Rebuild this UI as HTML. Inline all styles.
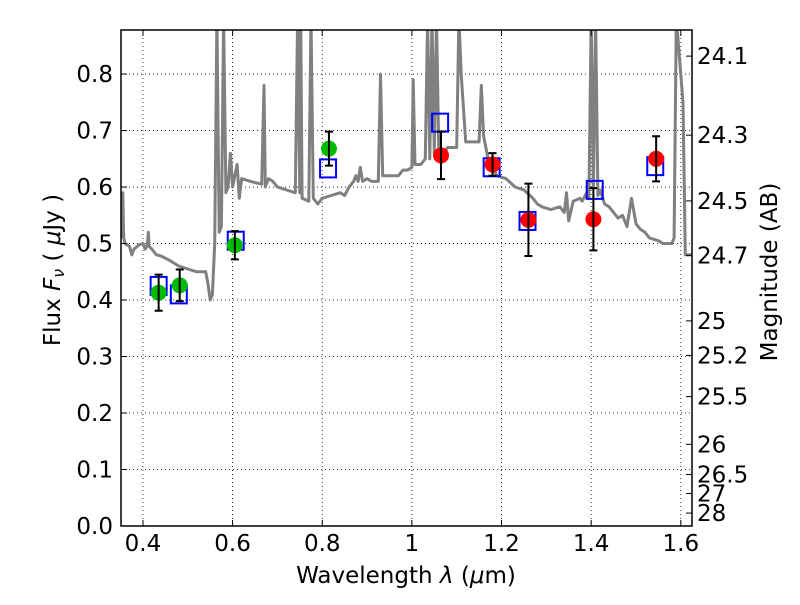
<!DOCTYPE html>
<html><head><meta charset="utf-8"><style>
body{margin:0;background:#fff}
svg text{font-family:"DejaVu Sans","Liberation Sans",sans-serif;fill:#000}
</style></head><body>
<svg id="chart" width="800" height="600" viewBox="0 0 800 600" xmlns="http://www.w3.org/2000/svg">
<defs><clipPath id="pc"><rect x="121" y="30" width="571" height="496"/></clipPath></defs>
<g id="grid"></g>
<g id="spec" clip-path="url(#pc)"></g>
<g id="marks" clip-path="url(#pc)"></g>
<rect x="121" y="30" width="571" height="496" fill="none" stroke="#000" stroke-width="1.5"/>
<g id="axes"></g>
<text x="406" y="583" font-size="23" text-anchor="middle">Wavelength  <tspan font-style="italic">λ</tspan> (<tspan font-style="italic">μ</tspan>m)</text>
<text transform="translate(60,270) rotate(-90)" font-size="23" text-anchor="middle">Flux  <tspan font-style="italic">F</tspan><tspan font-style="italic" font-size="16" dy="4">ν</tspan><tspan dy="-4">  ( </tspan><tspan font-style="italic">μ</tspan>Jy )</text>
<text transform="translate(777,272) rotate(-90)" font-size="23" text-anchor="middle">Magnitude (AB)</text>
</svg>
<script>
const xTicks=[0.4,0.6,0.8,1.0,1.2,1.4,1.6];
const xTickLabels=["0.4","0.6","0.8","1","1.2","1.4","1.6"];
const yTicks=[0,0.1,0.2,0.3,0.4,0.5,0.6,0.7,0.8];
const yTickLabels=["0.0","0.1","0.2","0.3","0.4","0.5","0.6","0.7","0.8"];
const magTicks=[24.1,24.3,24.5,24.7,25,25.2,25.5,26,26.5,27,28];
const magLabels=["24.1","24.3","24.5","24.7","25","25.2","25.5","26","26.5","27","28"];
const specWave=[0.351,0.355,0.357,0.36,0.37,0.375,0.38,0.39,0.40,0.405,0.41,0.412,0.414,0.42,0.43,0.44,0.46,0.48,0.50,0.52,0.54,0.545,0.55,0.555,0.56,0.565,0.57,0.575,0.58,0.585,0.59,0.595,0.60,0.605,0.61,0.615,0.62,0.64,0.665,0.67,0.673,0.68,0.69,0.70,0.72,0.74,0.745,0.75,0.752,0.755,0.77,0.775,0.78,0.79,0.80,0.82,0.84,0.85,0.86,0.87,0.875,0.88,0.885,0.89,0.90,0.91,0.92,0.925,0.93,0.935,0.95,0.97,0.98,0.99,1.0,1.003,1.007,1.02,1.03,1.035,1.04,1.045,1.05,1.055,1.06,1.07,1.08,1.09,1.1,1.105,1.11,1.12,1.13,1.14,1.15,1.155,1.16,1.17,1.19,1.21,1.23,1.25,1.27,1.28,1.29,1.31,1.33,1.34,1.345,1.35,1.36,1.375,1.38,1.39,1.395,1.40,1.405,1.41,1.415,1.42,1.43,1.44,1.45,1.46,1.47,1.48,1.49,1.50,1.51,1.52,1.53,1.55,1.56,1.58,1.585,1.59,1.605,1.61,1.625];
const specFlux=[0.51,0.59,0.51,0.50,0.495,0.48,0.49,0.497,0.50,0.49,0.497,0.52,0.495,0.49,0.48,0.478,0.47,0.46,0.455,0.45,0.45,0.43,0.40,0.41,0.50,0.90,0.52,0.53,0.90,0.59,0.60,0.66,0.60,0.62,0.64,0.58,0.615,0.61,0.605,0.78,0.60,0.615,0.61,0.60,0.595,0.59,0.90,0.59,0.90,0.58,0.575,0.90,0.58,0.57,0.58,0.585,0.59,0.585,0.60,0.61,0.62,0.61,0.635,0.61,0.615,0.61,0.61,0.61,0.80,0.62,0.62,0.62,0.63,0.63,0.635,0.79,0.64,0.64,0.65,0.90,0.65,0.90,0.66,0.90,0.66,0.66,0.67,0.67,0.67,0.90,0.80,0.68,0.68,0.68,0.68,0.78,0.69,0.65,0.62,0.615,0.60,0.595,0.58,0.57,0.565,0.56,0.565,0.555,0.59,0.54,0.575,0.58,0.575,0.59,0.58,0.90,0.60,0.90,0.585,0.595,0.57,0.565,0.555,0.545,0.55,0.53,0.58,0.535,0.525,0.52,0.51,0.505,0.50,0.50,0.51,0.90,0.75,0.48,0.48];
const greenWave=[0.435,0.482,0.605,0.815];
const greenFlux=[0.413,0.426,0.497,0.668];
const greenErr=[0.032,0.028,0.025,0.03];
const redWave=[1.065,1.18,1.26,1.405,1.545];
const redFlux=[0.656,0.64,0.542,0.543,0.65];
const redErr=[0.042,0.02,0.064,0.055,0.04];
const blueWave=[0.435,0.48,0.607,0.813,1.063,1.178,1.258,1.408,1.543];
const blueFlux=[0.425,0.41,0.505,0.633,0.714,0.635,0.54,0.595,0.637];

const NS="http://www.w3.org/2000/svg";
const X0=0.351,X1=1.625,Y0=0,Y1=0.878,L=121,R=692,T=30,B=526;
function sx(v){return L+(v-X0)/(X1-X0)*(R-L);}
function sy(v){return B-(v-Y0)/(Y1-Y0)*(B-T);}
function mk(tag,at,parent){const e=document.createElementNS(NS,tag);for(const k in at)e.setAttribute(k,at[k]);parent.appendChild(e);return e;}
const grid=document.getElementById('grid'),axes=document.getElementById('axes'),spec=document.getElementById('spec'),marks=document.getElementById('marks');
xTicks.forEach((t,i)=>{const x=sx(t);
 let g=mk('line',{x1:x,x2:x,y1:T,y2:B,stroke:'#000','stroke-width':0.8,'stroke-dasharray':'1,3'},grid);
 
 mk('line',{x1:x,x2:x,y1:B,y2:B-6,stroke:'#000'},axes);mk('line',{x1:x,x2:x,y1:T,y2:T+6,stroke:'#000'},axes);
 let tx=mk('text',{x:x,y:B+25,'font-size':23,'text-anchor':'middle'},axes);tx.textContent=xTickLabels[i];
 });
yTicks.forEach((t,i)=>{const y=sy(t);
 let g=mk('line',{x1:L,x2:R,y1:y,y2:y,stroke:'#000','stroke-width':0.8,'stroke-dasharray':'1,3'},grid);
 
 mk('line',{x1:L,x2:L+6,y1:y,y2:y,stroke:'#000'},axes);
 let tx=mk('text',{x:L-8,y:y+8,'font-size':23,'text-anchor':'end'},axes);tx.textContent=yTickLabels[i];
 });
magTicks.forEach((m,i)=>{const y=sy(Math.pow(10,(23.9-m)/2.5));
 mk('line',{x1:R-6,x2:R,y1:y,y2:y,stroke:'#000'},axes);
 let tx=mk('text',{x:R+5,y:y+8,'font-size':23},axes);tx.textContent=magLabels[i];
 });
let d=specWave.map((w,i)=>(i?'L':'M')+sx(w).toFixed(1)+','+sy(specFlux[i]).toFixed(1)).join(' ');
let p=mk('path',{d:d,fill:'none',stroke:'#808080','stroke-width':3,'stroke-linejoin':'round'},spec);

blueWave.forEach((w,i)=>{let r=mk('rect',{x:sx(w)-8,y:sy(blueFlux[i])-9,width:16,height:18,fill:'none',stroke:'#0000ff','stroke-width':2},marks);
 });
function pts(W,F,E,col,nm){W.forEach((w,i)=>{const x=sx(w);
 let c=mk('circle',{cx:x,cy:sy(F[i]),r:8,fill:col},marks);
 
 const y1=sy(F[i]+E[i]),y2=sy(F[i]-E[i]);
 let e=mk('path',{d:`M${x},${y1}V${y2}M${x-4},${y1}H${x+4}M${x-4},${y2}H${x+4}`,stroke:'#000','stroke-width':2,fill:'none'},marks);
 });}
pts(greenWave,greenFlux,greenErr,'#00bb00','optical-flux-point');
pts(redWave,redFlux,redErr,'#ff0000','nir-flux-point');
</script>
</body></html>
